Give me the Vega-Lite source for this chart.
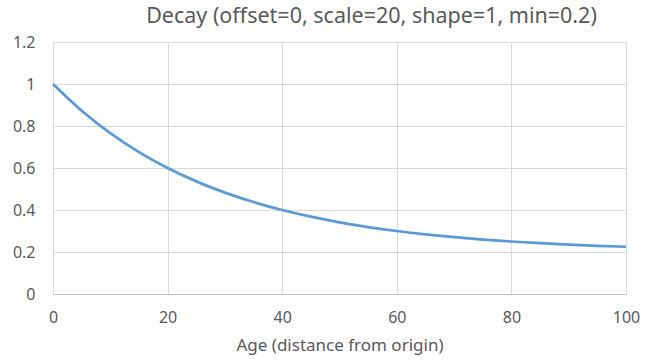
{
  "$schema": "https://vega.github.io/schema/vega-lite/v6.json",
  "width": 573,
  "height": 252,
  "autosize": "none",
  "padding": {"left": 53, "top": 42, "right": 28, "bottom": 69},
  "background": "white",
  "title": {
    "text": "Decay (offset=0, scale=20, shape=1, min=0.2)",
    "anchor": "middle",
    "frame": "group",
    "dx": 32,
    "dy": 3,
    "fontSize": 21.5,
    "font": "Noto Sans",
    "fontWeight": "normal",
    "color": "#595959",
    "offset": 10
  },
  "data": {
    "values": [
      {"age": 0, "decay": 1.0},
      {"age": 5, "decay": 0.872717},
      {"age": 10, "decay": 0.765685},
      {"age": 15, "decay": 0.675683},
      {"age": 20, "decay": 0.6},
      {"age": 25, "decay": 0.536359},
      {"age": 30, "decay": 0.482843},
      {"age": 35, "decay": 0.437841},
      {"age": 40, "decay": 0.4},
      {"age": 45, "decay": 0.368179},
      {"age": 50, "decay": 0.341421},
      {"age": 55, "decay": 0.318921},
      {"age": 60, "decay": 0.3},
      {"age": 65, "decay": 0.28409},
      {"age": 70, "decay": 0.270711},
      {"age": 75, "decay": 0.25946},
      {"age": 80, "decay": 0.25},
      {"age": 85, "decay": 0.242045},
      {"age": 90, "decay": 0.235355},
      {"age": 95, "decay": 0.22973},
      {"age": 100, "decay": 0.225}
    ]
  },
  "mark": {"type": "line", "color": "#5b9bd5", "strokeWidth": 2.75, "interpolate": "monotone"},
  "encoding": {
    "x": {
      "field": "age",
      "type": "quantitative",
      "scale": {"domain": [0, 100], "nice": false},
      "axis": {
        "title": "Age (distance from origin)",
        "values": [0, 20, 40, 60, 80, 100],
        "format": "d",
        "ticks": false,
        "domain": true,
        "domainColor": "#bfbfbf",
        "domainWidth": 1,
        "grid": true,
        "gridColor": "#d9d9d9",
        "labelFlush": false,
        "labelPadding": 15,
        "labelFontSize": 16,
        "labelFont": "Noto Sans",
        "labelColor": "#595959",
        "titleFont": "Noto Sans",
        "titleFontSize": 17,
        "titleFontWeight": "normal",
        "titleColor": "#595959",
        "titlePadding": 12
      }
    },
    "y": {
      "field": "decay",
      "type": "quantitative",
      "scale": {"domain": [0, 1.2], "nice": false},
      "axis": {
        "title": null,
        "values": [0, 0.2, 0.4, 0.6, 0.8, 1, 1.2],
        "format": "~g",
        "ticks": false,
        "domain": false,
        "grid": true,
        "gridColor": "#d9d9d9",
        "labelFlush": false,
        "labelPadding": 18,
        "labelFontSize": 16,
        "labelFont": "Noto Sans",
        "labelColor": "#595959"
      }
    }
  },
  "config": {
    "view": {"stroke": "#d9d9d9"}
  }
}
